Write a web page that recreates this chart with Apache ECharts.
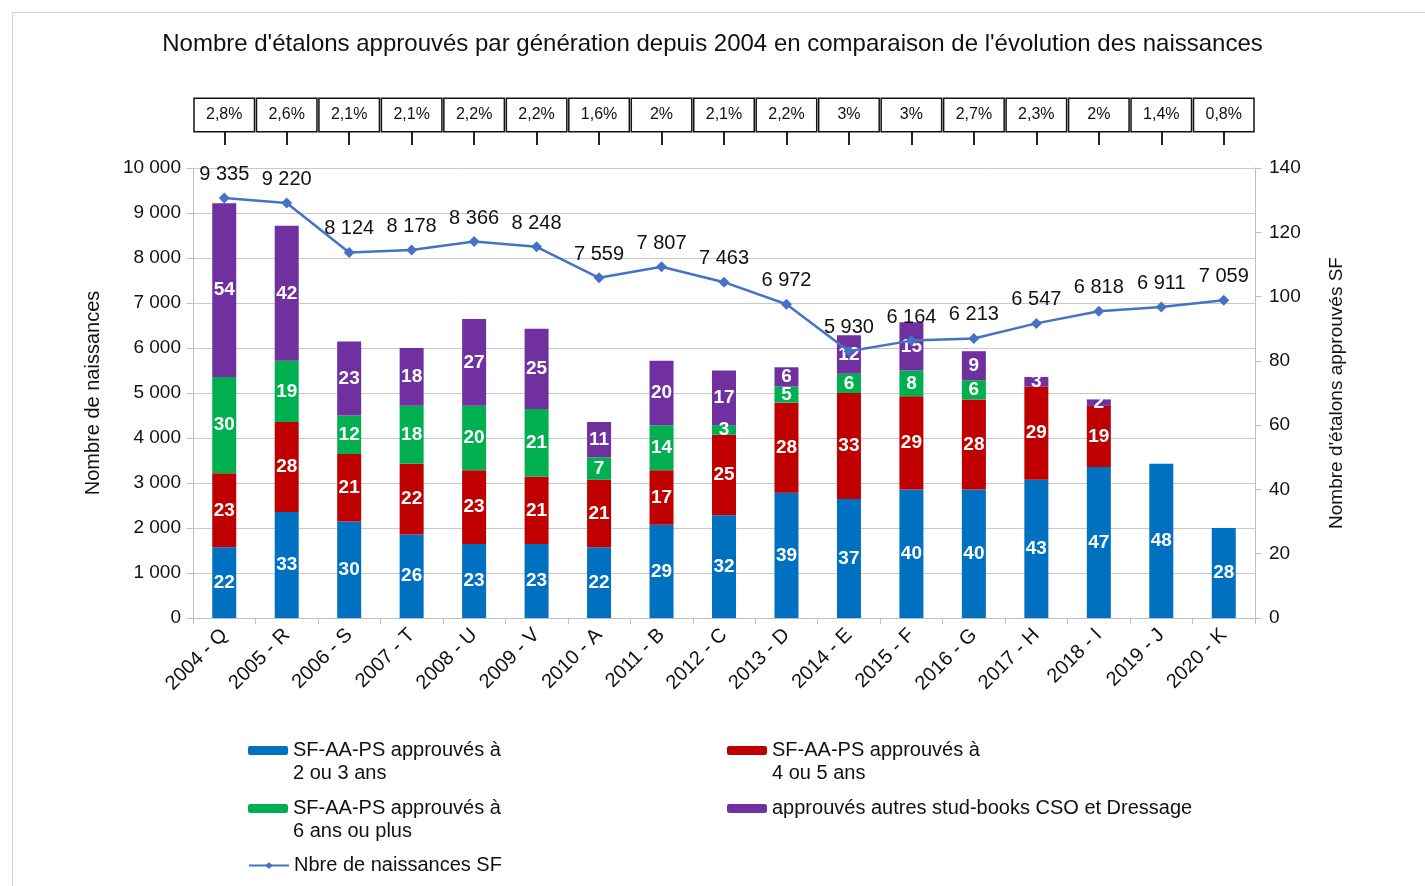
<!DOCTYPE html>
<html lang="fr">
<head>
    <meta charset="UTF-8">
    <title>Etalons approuvés et naissances</title>
    <script src="https://cdn.jsdelivr.net/npm/echarts@6/dist/echarts.min.js"></script>
    <style>
        html, body { margin: 0; padding: 0; background: #fff; }
        .frame {
            position: absolute; left: 12px; top: 12px;
            width: 1412px; height: 873px;
            border: 1px solid #d4d4d4;
        }
        .chart { position: absolute; left: 0; top: 0; width: 1425px; height: 886px; }
    </style>
</head>
<body>
<div class="frame"></div>
<div class="chart"></div>

<script>
    // générations
    const generations = ['2004 - Q', '2005 - R', '2006 - S', '2007 - T', '2008 - U', '2009 - V', '2010 - A', '2011 - B',
        '2012 - C', '2013 - D', '2014 - E', '2015 - F', '2016 - G', '2017 - H', '2018 - I', '2019 - J', '2020 - K'];
    // part des étalons approuvés / naissances
    const ratios = ['2,8%', '2,6%', '2,1%', '2,1%', '2,2%', '2,2%', '1,6%', '2%', '2,1%', '2,2%', '3%', '3%',
        '2,7%', '2,3%', '2%', '1,4%', '0,8%'];
    const approuves23 = [22, 33, 30, 26, 23, 23, 22, 29, 32, 39, 37, 40, 40, 43, 47, 48, 28];
    const approuves45 = [23, 28, 21, 22, 23, 21, 21, 17, 25, 28, 33, 29, 28, 29, 19, 0, 0];
    const approuves6plus = [30, 19, 12, 18, 20, 21, 7, 14, 3, 5, 6, 8, 6, 0, 0, 0, 0];
    const autresStudBooks = [54, 42, 23, 18, 27, 25, 11, 20, 17, 6, 12, 15, 9, 3, 2, 0, 0];
    const naissances = [9335, 9220, 8124, 8178, 8366, 8248, 7559, 7807, 7463, 6972, 5930, 6164, 6213, 6547, 6818, 6911, 7059];

    const FONT = '"Liberation Sans", Arial, sans-serif';
    const milliers = v => String(v).replace(/\B(?=(\d{3})+(?!\d))/g, ' ');

    let chart = echarts.init(document.querySelector('.chart'));

    function barSerie(name, color, data) {
        return {
            type: 'bar',
            name,
            stack: 'etalons',
            xAxisIndex: 0,
            yAxisIndex: 1,
            barWidth: 24,
            itemStyle: { color },
            label: {
                show: true,
                position: 'inside',
                color: '#fff',
                fontFamily: FONT,
                fontSize: 19,
                fontWeight: 'bold',
                formatter: p => p.value ? p.value : ''
            },
            data
        };
    }

    // légende : une par élément pour placer les deux colonnes
    // (ligne vide en tête pour que l'icône soit en face de la première ligne)
    function legendItem(name, left, top, twoLines) {
        return {
            data: [name],
            left, top,
            padding: 0,
            itemWidth: 40,
            itemHeight: 9,
            selectedMode: false,
            formatter: n => twoLines ? '\n' + n : n,
            textStyle: {
                fontFamily: FONT,
                fontSize: 20,
                color: '#111',
                lineHeight: 23
            }
        };
    }

    chart.setOption({
        backgroundColor: 'transparent',
        animation: false,
        textStyle: { fontFamily: FONT },
        title: {
            text: "Nombre d'étalons approuvés par génération depuis 2004 en comparaison de l'évolution des naissances",
            left: 'center',
            top: 27,
            textStyle: { fontFamily: FONT, fontSize: 24, fontWeight: 'normal', color: '#111' }
        },
        legend: [
            legendItem('SF-AA-PS approuvés à\n2 ou 3 ans', 248, 716, true),
            legendItem('SF-AA-PS approuvés à\n4 ou 5 ans', 727, 716, true),
            legendItem('SF-AA-PS approuvés à\n6 ans ou plus', 248, 774, true),
            legendItem('approuvés autres stud-books CSO et Dressage', 727, 797, false),
            legendItem('Nbre de naissances SF', 248, 854, false)
        ],
        grid: [
            { left: 193, right: 170, top: 168, bottom: 268 },
            // petite bande sous les pourcentages : traits au centre de chaque génération
            { left: 193 + 31.25, right: 170 + 31.25, top: 131, height: 14 }
        ],
        xAxis: [
            {
                type: 'category',
                data: generations,
                axisLine: { lineStyle: { color: '#bfbfbf' } },
                axisTick: { show: true, length: 6, lineStyle: { color: '#bfbfbf' } },
                axisLabel: {
                    interval: 0,
                    rotate: 45,
                    margin: 14,
                    color: '#111',
                    fontFamily: FONT,
                    fontSize: 20
                }
            },
            {
                // ligne des pourcentages en haut
                type: 'category',
                position: 'top',
                offset: 37,
                data: ratios,
                axisLine: { show: false },
                axisTick: { show: false },
                axisLabel: {
                    interval: 0,
                    margin: 0,
                    width: 59,
                    height: 32,
                    lineHeight: 32,
                    align: 'center',
                    backgroundColor: '#fff',
                    borderColor: '#111',
                    borderWidth: 1.5,
                    color: '#111',
                    fontFamily: FONT,
                    fontSize: 16
                }
            },
            {
                gridIndex: 1,
                type: 'category',
                boundaryGap: false,
                data: ratios,
                axisLine: { show: false },
                axisTick: { show: false },
                axisLabel: { show: false },
                splitLine: { show: true, interval: 0, lineStyle: { color: '#222', width: 2 } }
            }
        ],
        yAxis: [
            {
                type: 'value',
                min: 0,
                max: 10000,
                interval: 1000,
                name: 'Nombre de naissances',
                nameLocation: 'middle',
                nameRotate: 90,
                nameGap: 90,
                nameTextStyle: { fontFamily: FONT, fontSize: 20, color: '#111' },
                axisLine: { show: true, lineStyle: { color: '#bfbfbf' } },
                axisTick: { show: true, length: 6, lineStyle: { color: '#bfbfbf' } },
                splitLine: { lineStyle: { color: '#c8c8c8' } },
                axisLabel: {
                    color: '#111',
                    fontFamily: FONT,
                    fontSize: 19,
                    margin: 12,
                    formatter: milliers
                }
            },
            {
                type: 'value',
                min: 0,
                max: 140,
                interval: 20,
                position: 'right',
                name: "Nombre d'étalons approuvés SF",
                nameLocation: 'middle',
                nameRotate: 90,
                nameGap: 72,
                nameTextStyle: { fontFamily: FONT, fontSize: 19, color: '#111' },
                axisLine: { show: true, lineStyle: { color: '#bfbfbf' } },
                axisTick: { show: true, length: 6, lineStyle: { color: '#bfbfbf' } },
                splitLine: { show: false },
                axisLabel: {
                    color: '#111',
                    fontFamily: FONT,
                    fontSize: 19,
                    margin: 14
                }
            },
            {
                gridIndex: 1,
                type: 'value',
                min: 0,
                max: 1,
                show: false
            }
        ],
        series: [
            barSerie('SF-AA-PS approuvés à\n2 ou 3 ans', '#0070c0', approuves23),
            barSerie('SF-AA-PS approuvés à\n4 ou 5 ans', '#c00000', approuves45),
            barSerie('SF-AA-PS approuvés à\n6 ans ou plus', '#00b050', approuves6plus),
            barSerie('approuvés autres stud-books CSO et Dressage', '#7030a0', autresStudBooks),
            {
                type: 'line',
                name: 'Nbre de naissances SF',
                xAxisIndex: 0,
                yAxisIndex: 0,
                symbol: 'diamond',
                symbolSize: 11,
                z: 5,
                lineStyle: { color: '#4472c4', width: 2.5 },
                itemStyle: { color: '#4472c4' },
                label: {
                    show: true,
                    position: 'top',
                    distance: 8,
                    color: '#111',
                    fontFamily: FONT,
                    fontSize: 20,
                    formatter: p => milliers(p.value)
                },
                data: naissances
            }
        ]
    });
</script>
</body>
</html>
